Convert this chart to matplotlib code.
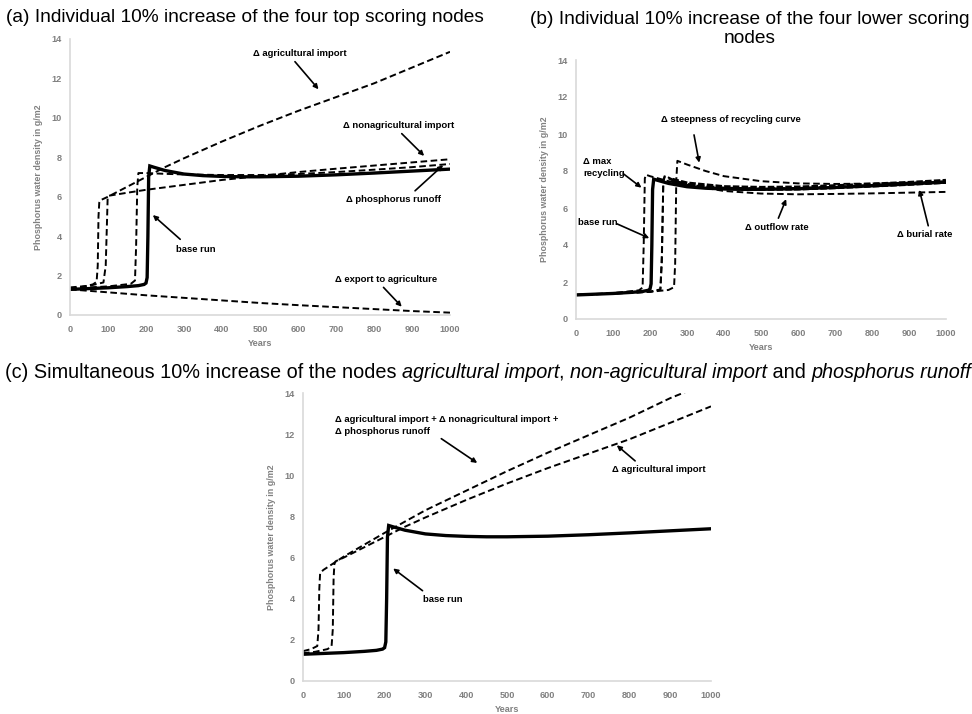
import matplotlib
matplotlib.use("Agg")
import matplotlib.pyplot as plt
from matplotlib.text import Annotation

plt.rcParams["font.family"] = ["Liberation Sans", "DejaVu Sans"]

# model runs: phosphorus water density (g/m2) over years
base_years = [0, 50, 100, 150, 180, 195, 200, 203, 205, 207, 210, 220, 250, 300, 350, 400, 450, 500, 600, 700, 800, 900, 1000]
base_run = [1.30, 1.34, 1.38, 1.44, 1.49, 1.55, 1.62, 1.9, 4.0, 7.0, 7.56, 7.50, 7.33, 7.15, 7.07, 7.03, 7.01, 7.01, 7.04, 7.11, 7.20, 7.30, 7.40]

agri_years = [0, 30, 60, 70, 73, 75, 77, 80, 100, 150, 200, 250, 300, 400, 500, 600, 700, 800, 900, 1000]
agri_import = [1.35, 1.42, 1.55, 1.68, 2.5, 5.0, 5.7, 5.82, 6.0, 6.5, 7.0, 7.5, 7.95, 8.8, 9.6, 10.35, 11.05, 11.75, 12.55, 13.35]

nonagri_years = [0, 50, 88, 94, 97, 99, 102, 150, 200, 300, 400, 500, 600, 700, 800, 900, 1000]
nonagri_import = [1.40, 1.48, 1.65, 2.5, 4.5, 5.9, 6.05, 6.2, 6.35, 6.6, 6.85, 7.05, 7.25, 7.42, 7.58, 7.74, 7.9]

runoff_years = [0, 100, 160, 171, 174, 177, 180, 200, 250, 300, 400, 500, 600, 700, 800, 900, 1000]
runoff = [1.35, 1.45, 1.58, 1.75, 3.5, 6.5, 7.2, 7.2, 7.16, 7.13, 7.1, 7.1, 7.15, 7.25, 7.37, 7.5, 7.66]

export_years = [0, 100, 200, 300, 400, 500, 600, 700, 800, 900, 1000]
export_agri = [1.30, 1.15, 1.0, 0.87, 0.74, 0.61, 0.5, 0.4, 0.3, 0.2, 0.12]

maxrec_years = [0, 100, 170, 180, 183, 186, 189, 200, 250, 300, 400, 500, 600, 700, 800, 900, 1000]
max_recycling = [1.3, 1.4, 1.55, 1.7, 4.0, 7.6, 7.8, 7.72, 7.45, 7.25, 7.08, 7.03, 7.05, 7.12, 7.22, 7.32, 7.42]

outflow_years = [0, 100, 200, 228, 232, 236, 240, 260, 300, 400, 500, 600, 700, 800, 900, 1000]
outflow = [1.3, 1.38, 1.48, 1.6, 3.5, 7.5, 7.75, 7.55, 7.25, 6.92, 6.78, 6.74, 6.76, 6.79, 6.83, 6.87]

burial_years = [0, 100, 200, 228, 232, 236, 240, 260, 300, 400, 500, 600, 700, 800, 900, 1000]
burial = [1.3, 1.37, 1.47, 1.58, 3.0, 7.4, 7.7, 7.5, 7.3, 7.1, 7.06, 7.08, 7.15, 7.24, 7.33, 7.44]

steep_years = [0, 100, 200, 250, 265, 268, 271, 274, 300, 350, 400, 500, 600, 700, 800, 900, 1000]
steepness = [1.3, 1.38, 1.47, 1.57, 1.72, 3.0, 7.5, 8.55, 8.35, 8.0, 7.72, 7.45, 7.33, 7.3, 7.32, 7.37, 7.42]

combo_years = [0, 20, 35, 38, 40, 42, 50, 100, 200, 300, 400, 500, 600, 700, 800, 900, 1000]
combined = [1.45, 1.55, 1.7, 2.5, 4.5, 5.25, 5.4, 6.05, 7.2, 8.3, 9.25, 10.2, 11.1, 11.95, 12.8, 13.75, 14.55]

x_ticks = list(range(0, 1001, 100))
y_ticks = list(range(0, 15, 2))

W, H = 972, 714
fig = plt.figure(figsize=(W / 100, H / 100), dpi=100)
GREY = "#808080"


def px_axes(l, t, r, b):
    return fig.add_axes([l / W, 1 - b / H, (r - l) / W, (b - t) / H])


def style_axes(ax):
    ax.set_xlim(0, 1000)
    ax.set_ylim(0, 14)
    ax.set_xticks(x_ticks)
    ax.set_yticks(y_ticks)
    for s in ["top", "right"]:
        ax.spines[s].set_visible(False)
    for s in ["left", "bottom"]:
        ax.spines[s].set_color("#d9d9d9")
        ax.spines[s].set_linewidth(1.2)
    ax.tick_params(length=0, labelsize=6.6, labelcolor=GREY)
    ax.tick_params(axis="x", pad=7)
    ax.tick_params(axis="y", pad=6)
    for lab in ax.get_xticklabels() + ax.get_yticklabels():
        lab.set_fontweight("bold")
    ax.set_xlabel("Years", fontsize=6.6, fontweight="bold", color=GREY, labelpad=4)
    ax.set_ylabel("Phosphorus water density in g/m2", fontsize=6.4, fontweight="bold",
                  color=GREY, labelpad=6)


def dashed(ax, x, y, lw=1.4):
    ax.plot(x, y, color="black", lw=lw, ls=(0, (3.4, 1.8)))


def solid(ax, x, y):
    ax.plot(x, y, color="black", lw=2.4, solid_joinstyle="miter")


def label(ax, x, y, text, ha="center"):
    ax.text(x, y, text, fontsize=6.8, fontweight="bold", ha=ha, va="center",
            linespacing=1.45)


def arrow(ax, x0, y0, x1, y1):
    ax.annotate("", xy=(x1, y1), xytext=(x0, y0),
                arrowprops=dict(arrowstyle="-|>", color="black", lw=1.2,
                                mutation_scale=7, shrinkA=0, shrinkB=0))


# (a) top scoring nodes
ax_a = px_axes(70, 39, 450, 315)
style_axes(ax_a)
dashed(ax_a, export_years, export_agri)
dashed(ax_a, agri_years, agri_import)
dashed(ax_a, nonagri_years, nonagri_import)
dashed(ax_a, runoff_years, runoff)
solid(ax_a, base_years, base_run)
label(ax_a, 606, 13.27, "Δ agricultural import")
arrow(ax_a, 592, 12.85, 654, 11.45)
label(ax_a, 864, 9.59, "Δ nonagricultural import")
arrow(ax_a, 873, 9.2, 932, 8.07)
label(ax_a, 851, 5.88, "Δ phosphorus runoff")
arrow(ax_a, 908, 6.3, 982, 7.6)
label(ax_a, 330, 3.33, "base run")
arrow(ax_a, 290, 3.84, 218, 5.07)
label(ax_a, 833, 1.78, "Δ export to agriculture")
arrow(ax_a, 825, 1.4, 873, 0.42)

# (b) lower scoring nodes
ax_b = px_axes(576, 60, 946, 319)
style_axes(ax_b)
dashed(ax_b, maxrec_years, max_recycling)
dashed(ax_b, outflow_years, outflow)
dashed(ax_b, steep_years, steepness)
dashed(ax_b, burial_years, burial)
solid(ax_b, base_years, base_run)
# burial run sits on top of the base run once it settles; heavier dashes there
settled = [i for i, yr in enumerate(burial_years) if yr >= 260]
ax_b.plot([burial_years[i] for i in settled], [burial[i] for i in settled],
          color="black", lw=3.6, ls=(0, (1.3, 0.45)))
label(ax_b, 418, 10.81, "Δ steepness of recycling curve")
arrow(ax_b, 319, 9.95, 333, 8.45)
label(ax_b, 20, 8.2, "Δ max\nrecycling", ha="left")
arrow(ax_b, 128, 7.85, 177, 7.1)
label(ax_b, 60, 5.22, "base run")
arrow(ax_b, 110, 5.15, 198, 4.37)
label(ax_b, 544, 4.95, "Δ outflow rate")
arrow(ax_b, 547, 5.45, 568, 6.48)
label(ax_b, 943, 4.59, "Δ burial rate")
arrow(ax_b, 952, 5.04, 928, 6.98)

# (c) simultaneous increase
ax_c = px_axes(303, 393, 711, 681)
style_axes(ax_c)
dashed(ax_c, combo_years, combined)
dashed(ax_c, agri_years, agri_import)
solid(ax_c, base_years, base_run)
label(ax_c, 78, 12.4, "Δ agricultural import + Δ nonagricultural import +\nΔ phosphorus runoff", ha="left")
arrow(ax_c, 339, 11.78, 427, 10.6)
label(ax_c, 871, 10.29, "Δ agricultural import")
arrow(ax_c, 814, 10.7, 769, 11.46)
label(ax_c, 343, 3.97, "base run")
arrow(ax_c, 293, 4.39, 221, 5.47)

# panel titles
title_size = 13.8
fig.text(6 / W, 1 - 18 / H, "(a) Individual 10% increase of the four top scoring nodes",
         fontsize=title_size, va="center", ha="left")
fig.text(750 / W, 1 - 29 / H, "(b) Individual 10% increase of the four lower scoring\nnodes",
         fontsize=title_size, va="center", ha="center", linespacing=1.22)

pieces = [("(c) Simultaneous 10% increase of the nodes ", "normal"),
          ("agricultural import", "italic"),
          (", ", "normal"),
          ("non-agricultural import", "italic"),
          (" and ", "normal"),
          ("phosphorus runoff", "italic")]
c_size = 14.3
prev = fig.text(5 / W, 1 - 372 / H, pieces[0][0], fontsize=c_size, va="center", ha="left")
for txt, st in pieces[1:]:
    ann = Annotation(txt, xy=(1, 0), xycoords=prev, va="bottom", ha="left",
                     fontsize=c_size, style=st)
    fig.add_artist(ann)
    prev = ann

fig.savefig("out.png", dpi=100)
